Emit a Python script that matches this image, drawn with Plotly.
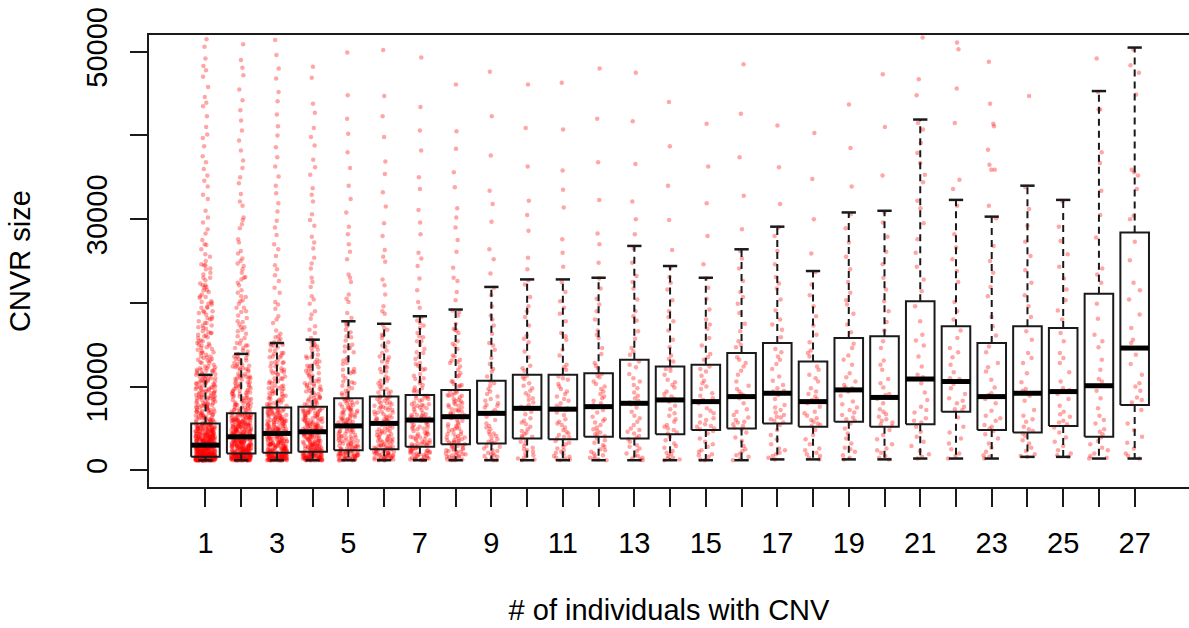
import plotly.graph_objects as go

# Number of individuals carrying the CNV (one box per value)
groups = list(range(1, 28))
tick_text = [str(g) if g % 2 == 1 else "" for g in groups]

# Box statistics per group, CNVR size in bp
whisker_low = [1200, 1200, 1200, 1200, 1200, 1200, 1200, 1200, 1200, 1200, 1200, 1200, 1200, 1200,
               1200, 1200, 1300, 1300, 1300, 1300, 1400, 1400, 1400, 1600, 1600, 1400, 1400]
q1 = [1600, 2000, 2100, 2200, 2400, 2500, 2800, 3100, 3200, 3800, 3700, 4000, 3800, 4300,
      4800, 5000, 5600, 5200, 5800, 5200, 5500, 7000, 4800, 4500, 5300, 4000, 7800]
median = [3000, 4000, 4400, 4600, 5300, 5600, 6000, 6400, 6800, 7400, 7300, 7600, 8000, 8400,
          8200, 8800, 9200, 8200, 9600, 8700, 10900, 10600, 8800, 9200, 9400, 10100, 14600]
q3 = [5600, 6800, 7500, 7600, 8600, 8800, 9000, 9600, 10700, 11400, 11400, 11600, 13200, 12400,
      12600, 14000, 15200, 13000, 15800, 16000, 20200, 17200, 15200, 17200, 17000, 21100, 28400]
whisker_high = [11400, 13900, 15200, 15600, 17800, 17500, 18400, 19200, 21900, 22800, 22800, 23000,
                26800, 24400, 23000, 26400, 29100, 23800, 30800, 31000, 41900, 32300, 30300,
                34000, 32300, 45300, 50500]

# Individual CNVR sizes (kb) for each group
size_kb_1 = [1.2, 1.3, 1.2, 1.4, 1.3, 1.5, 1.2, 1.6, 1.4, 1.3, 1.2, 1.5, 1.4, 1.6, 1.3, 1.2, 1.5, 1.4, 1.2, 1.3,
             1.6, 1.5, 1.4, 1.2, 1.3, 1.5, 1.6, 1.2, 1.4, 1.3, 1.2, 1.4, 1.5, 1.3, 1.6, 1.2, 1.4, 1.3, 1.5, 1.2,
             1.6, 1.4, 1.3, 1.5, 1.2, 1.4, 1.6, 1.3, 1.5, 1.2,
             1.7, 2.1, 1.8, 2.5, 1.9, 2.2, 2.8, 1.7, 2.4, 2.0, 2.9, 1.8, 2.3, 2.6, 1.9, 3.0, 2.1, 2.7, 1.7, 2.2,
             2.5, 2.0, 2.8, 1.8, 2.4, 1.9, 2.6, 2.3, 1.7, 2.9, 2.1, 2.0, 2.7, 1.8, 2.2, 2.5, 1.9, 3.0, 2.4, 2.1,
             2.6, 1.7, 2.3, 2.8, 2.0, 1.8, 2.5, 2.2, 2.9, 1.9,
             3.1, 4.2, 3.5, 5.0, 3.3, 4.6, 3.8, 5.4, 3.2, 4.0, 4.9, 3.6, 5.2, 3.4, 4.4, 3.9, 5.5, 3.1, 4.7, 3.7,
             4.1, 5.1, 3.3, 4.5, 3.6, 5.3, 3.9, 4.3, 3.2, 4.8, 3.5, 5.6, 4.0, 3.4, 4.6, 3.8, 5.0, 3.1, 4.2, 3.7,
             5.4, 4.4, 3.3, 4.9, 3.6, 4.1, 5.2, 3.9, 4.7, 3.5,
             5.9, 6.4, 7.1, 6.2, 7.8, 8.5, 6.8, 9.3, 7.4, 10.1, 8.0, 11.0, 8.8, 12.2, 9.7, 13.4, 10.6, 14.7,
             11.8, 16.2, 12.9, 17.8, 14.1, 19.5, 15.4, 21.3, 16.9, 23.4, 18.6, 25.8, 20.2, 28.3, 22.1, 31.0,
             24.5, 33.9, 27.0, 36.8, 29.6, 40.1, 32.4, 43.5, 35.2, 47.0, 38.7, 50.6, 42.3, 45.8, 49.2, 26.4,
             6.0, 6.6, 7.3, 8.2, 9.0, 9.9, 10.8, 11.6, 12.6, 13.8, 15.0, 16.5, 18.1, 19.9, 21.8, 24.1, 6.3,
             7.0, 7.7, 8.7, 9.5, 10.4, 11.3, 12.4, 13.1, 14.4, 15.8, 17.3, 19.0, 20.8, 22.7, 25.0, 27.5, 30.2,
             34.6, 37.5, 41.0, 44.6, 48.3, 51.5,
             1.2, 1.3, 1.4, 1.5, 1.2, 1.3, 1.6, 1.4, 1.5, 1.2, 1.7, 1.3, 1.8, 1.4, 1.2, 1.9, 1.5, 1.3, 2.0, 1.6,
             1.2, 2.2, 1.4, 2.4, 1.7, 1.3, 2.6, 1.5, 2.1, 1.8, 2.9, 1.2, 2.3, 1.6, 3.2, 1.9, 2.7, 1.4, 3.5, 2.0,
             3.8, 2.5, 1.3, 4.1, 2.8, 1.7, 4.5, 3.0, 2.2, 4.8, 3.4, 1.5, 5.2, 3.7, 2.6, 5.5, 4.0, 1.8, 4.3, 3.1,
             4.6, 2.4, 3.9, 5.0, 3.3, 4.9, 2.1, 3.6, 5.3, 4.4, 1.4, 2.9, 4.7, 3.2, 5.6, 2.7, 4.2, 1.6, 3.8, 5.1,
             6.1, 6.9, 7.5, 8.0, 8.8, 9.4, 10.3, 11.1, 12.0, 12.8, 13.6, 14.6, 15.5, 16.6, 17.6, 18.9, 20.0,
             21.5, 23.0, 24.6, 6.5, 7.2, 7.9, 8.6, 9.2, 10.0, 10.7, 11.5, 12.3, 13.2, 14.0, 15.2, 16.0, 17.1,
             18.3, 19.4, 20.6, 22.3, 24.0, 26.9, 5.8, 6.7, 7.6, 8.4, 9.6, 10.5, 11.9, 13.5, 14.9, 16.4, 18.0,
             19.8, 21.9, 25.5, 28.8, 32.9, 36.0, 39.7, 43.9, 47.8,
             1.2, 1.4, 1.3, 1.6, 1.2, 1.5, 1.8, 1.3, 1.7, 1.4, 2.0, 1.2, 1.6, 1.9, 1.3, 2.2, 1.5, 1.4, 2.4, 1.7,
             1.2, 1.8, 1.3, 2.1, 1.6, 1.4, 2.3, 1.5, 1.2, 1.9, 2.5, 1.3, 1.7, 2.0, 1.4, 1.6, 2.2, 1.2, 1.8, 1.5,
             1.3, 2.4, 1.7, 1.4, 2.1, 1.2, 1.9, 1.6, 2.3, 1.3, 1.5, 2.0, 1.8, 1.2, 2.5, 1.4, 1.7, 2.2, 1.3, 1.6,
             1.9, 1.2, 2.1, 1.5, 1.4, 2.4, 1.8, 1.3, 1.6, 2.0, 1.2, 2.3, 1.7, 1.5, 1.4, 1.9, 2.2, 1.3, 1.6, 1.8,
             2.6, 3.4, 4.5, 2.9, 3.8, 5.1, 2.7, 3.2, 4.2, 3.6, 4.9, 2.8, 3.0, 4.0, 5.5, 3.3, 2.6, 4.7, 3.9, 3.1,
             4.3, 2.9, 5.3, 3.5, 2.7, 4.1, 3.7, 5.0, 3.2, 4.6, 2.8, 3.4, 4.4, 5.6, 3.0, 3.8, 2.6, 4.8, 3.6, 4.2,
             5.2, 2.9, 3.3, 4.0, 3.1, 4.5, 2.7, 3.9, 5.4, 3.5, 4.3, 2.8, 3.7, 4.9, 3.0, 4.1, 2.6, 3.4, 5.1, 4.6,
             3.2, 2.9, 4.4, 3.8, 5.5, 3.1, 4.7, 2.7, 3.6, 4.2, 3.3, 5.0, 2.8, 4.0, 3.9, 4.8, 3.5, 5.3, 3.0, 4.3,
             5.8, 6.3, 7.0, 7.7, 8.5, 9.3, 10.2, 11.1, 6.0, 6.6, 7.3, 8.0, 8.8, 9.7, 10.6, 11.6, 5.9, 6.4, 7.1,
             7.9, 8.6, 9.5, 10.4, 11.4, 6.2, 6.9, 7.5, 8.3, 9.1, 9.9, 10.9, 11.8, 5.7, 6.5, 7.2, 7.8, 8.4, 9.0,
             9.8, 10.7, 11.3, 6.1, 6.8, 7.4, 8.1, 8.9, 9.6, 10.5, 11.5, 12.0, 6.7, 7.6, 8.7, 9.4, 10.0, 10.8,
             11.9, 6.0, 7.0, 8.2, 9.2, 10.3, 11.2, 5.8, 6.6, 7.7, 8.8, 9.9, 11.0, 12.0,
             12.4, 13.1, 14.0, 14.9, 15.9, 17.0, 18.2, 19.4, 20.7, 22.1, 23.6, 12.8, 13.6, 14.5, 15.4, 16.4,
             17.6, 18.8, 20.1, 21.5, 23.0, 24.5, 12.2, 13.3, 14.2, 15.1, 16.1, 17.3, 19.0, 21.0]
size_kb_2 = [1.2, 1.4, 1.3, 1.6, 1.5, 1.8, 1.2, 1.7, 1.9, 1.4, 1.3, 2.0, 1.6, 1.5, 1.2, 1.8, 1.4, 1.7, 1.3, 1.9,
             1.5, 1.2, 1.6, 2.0, 1.4, 1.8, 1.3, 1.7, 1.5, 1.9, 1.2, 1.6, 1.4, 1.8, 1.3, 2.0, 1.5, 1.7, 1.2, 1.6,
             2.1, 2.8, 3.5, 2.4, 3.1, 3.9, 2.2, 2.6, 3.3, 2.9, 3.7, 2.3, 3.0, 2.5, 3.6, 2.7, 3.2, 4.0, 2.1, 3.4,
             2.6, 3.8, 2.4, 3.0, 2.2, 3.5, 2.9, 3.1, 2.5, 3.9, 2.7, 3.3, 2.3, 3.6, 2.8, 2.0, 3.2, 3.7, 2.6, 3.4,
             4.2, 5.1, 6.0, 4.6, 5.5, 6.5, 4.4, 5.8, 4.9, 6.7, 4.1, 5.3, 6.2, 4.7, 5.6, 4.3, 6.4, 5.0, 4.8, 5.9,
             4.5, 6.8, 5.2, 4.0, 6.1, 5.4, 4.6, 6.6, 5.7, 4.2, 6.3, 4.9, 5.1, 6.0, 4.4, 5.5, 6.5, 4.7, 5.8, 5.3,
             7.0, 7.6, 8.3, 9.1, 10.0, 11.0, 12.1, 13.3, 7.3, 8.0, 8.8, 9.6, 10.5, 11.5, 12.7, 13.8, 14.9, 16.3,
             17.8, 19.4, 21.2, 23.1, 25.3, 27.6, 30.2, 33.0, 36.1, 39.4, 43.0, 47.2, 50.9, 7.8, 8.6, 9.9, 11.2,
             12.5, 15.2, 16.8, 18.5, 20.3, 22.4, 24.7, 28.9, 31.6, 35.0, 38.2, 41.8, 45.5, 49.0, 14.3, 17.1,
             19.9, 26.2, 29.4, 34.3, 7.1, 8.1, 9.4, 10.8, 12.0,
             1.3, 1.5, 1.2, 1.7, 1.4, 1.9, 1.6, 1.2, 1.8, 1.3, 2.0, 1.5, 1.7, 1.4, 1.9, 1.2, 1.6, 1.8, 1.3, 2.0,
             2.2, 2.9, 3.6, 2.5, 3.3, 2.1, 3.9, 2.7, 3.1, 2.4, 3.7, 2.8, 2.3, 3.4, 2.6, 3.0, 3.8, 2.2, 3.5, 2.9,
             4.3, 5.2, 6.1, 4.8, 5.6, 6.6, 4.1, 5.9, 4.5, 6.3, 5.0, 5.4, 6.8, 4.6, 5.7, 4.2, 6.0, 5.3, 4.9, 6.4,
             7.2, 7.9, 8.7, 9.5, 10.3, 11.3, 12.4, 13.6, 7.5, 8.4, 9.2, 10.1, 11.0, 12.2, 13.0, 14.6, 15.8,
             17.4, 19.0, 20.8, 22.8, 24.0, 25.9, 27.2, 29.9, 32.1, 37.0, 40.6, 44.2, 48.1,
             1.2, 1.5, 1.3, 1.8, 1.6, 2.1, 1.4, 2.4, 1.9, 1.2, 2.7, 1.7, 1.3, 2.2, 1.5, 2.0, 1.8, 1.4, 2.5, 1.6,
             1.2, 2.3, 1.9, 1.3, 2.6, 1.7, 2.1, 1.5, 1.4, 2.8, 1.8, 1.2, 2.4, 1.6, 2.0, 1.3, 2.2, 1.9, 1.5, 2.7,
             1.4, 1.7, 2.5, 1.2, 2.1, 1.8, 1.6, 2.3, 1.3, 2.6, 1.5, 1.9, 2.0, 1.4, 2.8, 1.7, 1.2, 2.4, 1.6, 2.2,
             2.9, 3.6, 4.5, 5.5, 3.2, 4.0, 5.0, 6.2, 3.0, 3.8, 4.8, 5.9, 3.4, 4.3, 5.3, 6.6, 3.1, 3.9, 4.6, 5.7,
             6.4, 3.3, 4.1, 5.2, 6.0, 3.5, 4.4, 5.4, 6.8, 2.9, 3.7, 4.7, 5.6, 6.3, 3.2, 4.2, 5.1, 6.5, 3.0, 4.0,
             4.9, 5.8, 3.6, 4.5, 5.3, 6.1, 3.4, 4.3, 5.0, 6.7, 3.1, 3.9, 4.6, 5.5, 6.2, 3.3, 4.1, 5.2, 5.9, 3.8,
             4.4, 5.7, 6.4, 3.5, 4.8, 6.0, 3.0, 4.2, 5.4, 6.6,
             7.0, 7.6, 8.3, 9.0, 9.8, 10.6, 11.5, 12.5, 13.6, 7.2, 7.9, 8.6, 9.4, 10.2, 11.0, 12.0, 13.1, 7.4,
             8.1, 8.9, 9.7, 10.5, 11.3, 12.3, 13.4, 7.1, 7.8, 8.5, 9.2, 10.0, 10.9, 11.8, 12.8, 13.9, 7.3, 8.0,
             8.8, 9.5, 10.4, 11.2, 12.2, 13.3, 7.7, 8.4, 9.3, 10.1, 11.1, 12.6, 7.5, 9.1,
             14.2, 15.1, 16.0, 17.1, 18.2, 19.4, 20.7, 22.1, 23.6, 25.0, 14.6, 15.5, 16.6, 17.7, 18.9, 20.2,
             21.5, 23.0, 24.4, 14.9]
size_kb_3 = [1.2, 1.5, 1.3, 1.8, 1.4, 2.0, 1.6, 1.2, 1.9, 1.3, 1.7, 2.1, 1.5, 1.4, 1.2, 1.8, 1.6, 1.3, 2.0, 1.7,
             1.4, 1.2, 1.9, 1.5, 1.6, 2.1, 1.3, 1.8, 1.4, 1.7, 1.2, 1.5,
             2.2, 3.0, 3.8, 2.5, 3.3, 4.2, 2.3, 2.8, 3.6, 2.6, 3.1, 4.0, 2.4, 3.4, 2.9, 4.4, 2.2, 3.7, 2.7, 3.2,
             4.1, 2.5, 3.5, 2.3, 3.9, 2.8, 3.0, 4.3, 2.6, 3.3, 2.4, 3.8,
             4.6, 5.5, 6.6, 4.9, 5.9, 7.1, 4.5, 6.2, 5.2, 7.4, 4.8, 5.7, 6.9, 5.0, 6.4, 4.7, 7.2, 5.4, 6.0, 4.6,
             6.8, 5.1, 7.5, 5.8, 4.9, 6.5, 5.3, 7.0, 6.1, 4.5, 5.6, 6.7,
             7.8, 8.6, 9.5, 10.6, 11.7, 12.9, 14.3, 15.0, 8.2, 9.1, 10.1, 11.2, 12.4, 13.6, 16.0, 17.6, 19.3,
             21.2, 23.3, 25.6, 28.1, 30.9, 34.0, 37.4, 41.1, 45.2, 49.6, 8.0, 9.8, 11.9, 14.0, 16.7, 18.4,
             20.1, 22.6, 24.5, 27.0, 29.8, 33.1, 36.3, 40.0, 44.1, 48.0, 51.4, 15.7,
             1.3, 1.6, 1.2, 1.9, 1.5, 2.1, 1.4, 1.8, 1.7, 2.0, 1.3, 1.5, 1.2, 1.9, 1.6, 2.1,
             2.3, 3.1, 3.9, 2.6, 3.4, 4.3, 2.5, 2.9, 3.7, 2.8, 3.2, 4.1, 2.4, 3.5, 3.0, 4.4,
             4.7, 5.6, 6.7, 5.0, 6.0, 7.2, 4.6, 6.3, 5.3, 7.3, 4.9, 5.8,
             7.9, 8.9, 9.9, 11.0, 12.2, 13.5, 14.9, 8.4, 9.3, 10.4, 11.5, 12.8, 16.3, 18.0, 19.8, 21.8, 24.0,
             26.4, 29.0, 31.9, 35.1, 38.6, 42.5, 46.8,
             1.2, 1.6, 1.3, 1.9, 1.5, 2.2, 1.4, 2.5, 1.8, 1.2, 2.7, 1.7, 1.3, 2.1, 1.5, 2.4, 1.9, 1.4, 2.6, 1.6,
             1.2, 2.0, 1.8, 1.3, 2.3, 1.7, 1.5, 2.8, 1.4, 2.1, 1.9, 1.2, 2.5, 1.6, 1.3, 2.2, 1.8, 1.5, 2.6, 1.4,
             2.0, 1.7, 1.2, 2.4, 1.6,
             3.0, 3.8, 4.8, 5.9, 7.0, 3.3, 4.2, 5.2, 6.4, 7.4, 3.1, 4.0, 5.0, 6.1, 7.2, 3.5, 4.5, 5.5, 6.7, 2.9,
             3.7, 4.6, 5.7, 6.9, 3.2, 4.1, 5.1, 6.3, 7.3, 3.4, 4.3, 5.3, 6.5, 3.0, 3.9, 4.9, 6.0, 7.1, 3.6, 4.4,
             5.4, 6.6, 3.3, 4.7, 5.8, 6.8, 3.1, 4.0, 5.6, 6.2, 3.8, 4.6, 5.9, 7.5, 3.5, 4.8, 6.1, 3.2, 5.0, 6.4,
             7.7, 8.4, 9.2, 10.1, 11.0, 12.0, 13.1, 14.3, 15.5, 7.9, 8.7, 9.5, 10.4, 11.4, 12.4, 13.5, 14.7,
             15.9, 8.1, 8.9, 9.8, 10.7, 11.7, 12.8, 13.9, 15.1, 7.6, 8.3, 9.1, 10.0, 10.9, 11.9, 12.9, 14.0,
             15.3, 8.0, 8.8, 9.7, 10.6, 11.6, 12.6, 13.7, 14.9, 8.5, 9.4]
size_kb_4 = [1.2, 1.6, 1.4, 1.9, 1.3, 2.1, 1.5, 1.8, 1.2, 2.0, 1.7, 1.4, 1.3, 2.2, 1.6, 1.9, 1.5, 1.2, 1.8, 1.4,
             2.1, 1.3, 1.7, 1.5, 2.0, 1.2, 1.6, 1.9,
             2.3, 3.1, 4.0, 2.6, 3.5, 4.4, 2.4, 2.9, 3.8, 2.7, 3.3, 4.2, 2.5, 3.6, 3.0, 4.6, 2.3, 3.9, 2.8, 3.4,
             4.3, 2.6, 3.7, 2.4, 4.1, 3.2, 2.9, 4.5,
             4.8, 5.7, 6.8, 5.1, 6.1, 7.3, 4.7, 6.4, 5.4, 7.6, 5.0, 5.9, 7.0, 5.2, 6.6, 4.9, 7.4, 5.6, 6.2, 4.8,
             6.9, 5.3, 7.1, 6.0, 5.1, 6.7, 5.5, 7.5,
             7.9, 8.8, 9.8, 10.9, 12.1, 13.5, 15.0, 8.3, 9.3, 10.4, 11.6, 12.9, 14.4, 15.5, 16.4, 18.1, 19.9,
             21.9, 24.1, 26.5, 29.2, 32.1, 35.3, 38.8, 42.7, 46.9, 8.6, 10.1, 12.5, 14.8, 17.2, 19.0, 20.8,
             23.0, 25.4, 27.9, 30.6, 33.7, 37.1, 40.9,
             1.3, 1.7, 1.5, 2.0, 1.4, 2.2, 1.6, 1.8, 1.2, 1.9, 1.5, 2.1,
             2.4, 3.2, 4.1, 2.7, 3.6, 4.5, 2.5, 3.0, 3.9, 2.8, 3.4, 4.4,
             4.9, 5.8, 6.9, 5.2, 6.3, 7.4, 4.8, 6.5, 5.5, 7.2,
             8.1, 9.0, 10.0, 11.2, 12.4, 13.8, 15.3, 8.5, 9.6, 10.7, 11.9, 13.2, 16.8, 18.6, 20.4, 22.5, 24.7,
             27.2, 29.9, 32.9, 36.2, 39.8, 43.8, 48.2,
             1.2, 1.7, 1.4, 2.0, 1.5, 2.3, 1.3, 2.6, 1.8, 1.2, 2.8, 1.6, 1.4, 2.1, 1.9, 1.3, 2.4, 1.7, 1.5, 2.7,
             1.2, 2.2, 1.8, 1.4, 2.5, 1.6, 1.3, 2.0, 1.9, 1.5, 2.3, 1.2, 2.6, 1.7, 1.4, 2.1,
             3.0, 3.9, 4.9, 6.0, 7.1, 3.3, 4.3, 5.3, 6.5, 7.5, 3.1, 4.1, 5.1, 6.2, 7.3, 3.6, 4.6, 5.6, 6.8, 2.9,
             3.8, 4.7, 5.8, 7.0, 3.2, 4.2, 5.2, 6.4, 3.4, 4.4, 5.4, 6.6, 3.0, 4.0, 5.0, 6.1, 3.7, 4.5, 5.5, 6.9,
             3.5, 4.8, 5.9, 7.2, 3.1, 4.3, 5.7, 6.3,
             7.8, 8.6, 9.4, 10.3, 11.3, 12.3, 13.4, 14.6, 15.8, 8.0, 8.8, 9.7, 10.6, 11.6, 12.7, 13.8, 15.0,
             8.2, 9.1, 10.0, 10.9, 11.9, 13.0, 14.2, 15.4, 7.9, 8.7, 9.5, 10.4, 11.4, 12.5, 13.6, 14.8, 8.4,
             9.3, 10.2]
size_kb_5 = [1.2, 1.5, 1.8, 2.1, 1.3, 1.7, 2.3, 1.4, 1.9, 1.2, 2.2, 1.6, 1.3, 2.0, 1.5, 2.4, 1.4, 1.8, 1.2, 2.1,
             1.6, 1.3, 1.9, 1.7,
             2.5, 3.4, 4.5, 2.8, 3.8, 5.0, 2.6, 3.2, 4.2, 3.0, 3.6, 4.8, 2.7, 4.0, 3.3, 5.2, 2.9, 4.4, 3.5, 3.9,
             4.7, 2.5, 4.1, 3.1,
             5.5, 6.6, 7.8, 5.9, 7.1, 8.4, 5.4, 7.4, 6.2, 8.6, 5.7, 6.9, 8.1, 6.0, 7.6, 5.6, 8.3, 6.4, 7.2, 5.8,
             8.0, 6.7, 7.0, 6.3,
             9.0, 10.1, 11.3, 12.7, 14.2, 15.9, 17.6, 9.5, 10.6, 12.0, 13.4, 15.0, 16.8, 18.8, 21.0, 23.4, 26.1,
             29.1, 32.4, 36.1, 40.2, 44.8, 49.9, 9.8, 11.7, 14.6, 17.2, 20.1, 22.5, 25.2, 28.2, 34.0, 38.0,
             1.3, 1.7, 2.0, 2.3, 1.5, 1.9, 2.6, 3.5, 4.6, 2.9, 3.9, 5.1, 5.6, 6.7, 7.9, 6.1, 7.3, 8.5, 9.2,
             10.4, 11.8, 13.1, 14.8, 16.5, 18.2, 20.5, 23.0, 27.0, 30.8, 42.0,
             1.3, 1.8, 2.2, 1.5, 2.0, 2.4, 1.4, 1.7, 2.3, 1.2, 1.9, 2.1,
             2.6, 3.5, 4.6, 5.7, 7.0, 8.3, 2.9, 3.8, 4.9, 6.1, 7.4, 8.6, 2.7, 3.6, 4.7, 5.9, 7.2, 3.1, 4.1, 5.3,
             6.5, 7.8, 3.3, 4.4, 5.5, 6.8, 8.1, 3.0, 4.0, 5.1, 6.3, 7.6,
             9.1, 10.0, 11.0, 12.1, 13.3, 14.6, 16.0, 17.5, 9.5, 10.5, 11.6, 12.8, 14.1, 15.5]
size_kb_6 = [1.2, 1.6, 2.0, 2.4, 1.4, 1.8, 2.2, 1.3, 1.7, 2.5, 1.5, 1.9, 1.2, 2.3, 1.6, 2.1, 1.4, 1.3, 2.0, 1.8,
             1.5, 2.4,
             2.6, 3.5, 4.6, 2.9, 3.9, 5.2, 2.7, 3.3, 4.3, 3.1, 3.7, 5.0, 2.8, 4.1, 3.4, 5.5, 3.0, 4.5, 3.6, 4.0,
             4.8, 2.6,
             5.8, 6.9, 8.1, 6.2, 7.4, 8.7, 5.7, 7.7, 6.5, 8.5, 6.0, 7.2, 8.3, 6.3, 7.9, 5.9, 8.8, 6.7, 7.0, 6.1,
             8.0, 7.5,
             9.2, 10.4, 11.7, 13.2, 14.9, 16.8, 9.7, 11.0, 12.4, 14.0, 15.8, 17.4, 19.6, 22.1, 24.9, 28.0, 31.5,
             35.4, 39.8, 44.7, 50.2, 10.0, 12.9, 16.1, 18.7, 21.0, 26.3, 33.2,
             1.3, 1.7, 2.1, 2.5, 1.5, 1.9, 2.7, 3.6, 4.7, 3.0, 4.2, 5.3, 5.9, 7.0, 8.2, 6.4, 7.6, 8.6, 9.4,
             10.7, 12.1, 13.6, 15.3, 17.0, 19.0, 22.8, 25.5, 29.5, 36.9, 42.3,
             1.3, 1.8, 2.3, 1.5, 2.1, 2.5, 1.4, 1.9, 1.2, 2.2,
             2.7, 3.6, 4.7, 5.9, 7.2, 8.5, 3.0, 4.0, 5.1, 6.3, 7.6, 8.8, 2.8, 3.8, 4.9, 6.1, 7.4, 3.2, 4.3, 5.4,
             6.7, 8.0, 3.4, 4.5, 5.6, 6.9,
             9.3, 10.2, 11.2, 12.3, 13.5, 14.8, 16.2, 9.7, 10.7, 11.8, 13.0, 14.3]
size_kb_7 = [1.2, 1.6, 2.1, 2.6, 1.4, 1.9, 2.4, 1.3, 1.8, 2.8, 1.5, 2.2, 1.2, 2.5, 1.7, 2.0, 1.4, 2.7, 1.3, 2.3,
             2.9, 3.8, 5.0, 3.2, 4.3, 5.6, 3.0, 3.6, 4.7, 3.4, 4.1, 5.4, 3.1, 4.5, 3.7, 5.9, 3.3, 4.9, 4.0, 5.2,
             6.2, 7.2, 8.3, 6.5, 7.6, 8.9, 6.1, 7.9, 6.8, 8.6, 6.3, 7.4, 8.1, 6.7, 7.0, 6.0, 8.8, 7.7, 6.4, 8.4,
             9.4, 10.6, 12.0, 13.6, 15.4, 17.3, 18.3, 9.9, 11.3, 12.8, 14.5, 16.4, 20.1, 22.9, 26.0, 29.6, 33.6,
             38.2, 43.4, 49.3, 10.2, 12.3, 15.0, 17.9, 24.4, 31.1,
             1.3, 1.8, 2.3, 2.7, 1.5, 2.1, 3.0, 3.9, 5.1, 3.3, 4.4, 5.7, 6.3, 7.3, 8.5, 6.6, 7.8, 8.9, 9.6,
             11.0, 12.5, 14.1, 15.9, 17.6, 19.4, 21.5, 25.3, 28.2, 35.0, 40.6,
             1.3, 1.9, 2.4, 1.6, 2.2, 2.7, 1.4, 2.0,
             3.0, 3.9, 5.0, 6.2, 7.5, 8.7, 3.3, 4.3, 5.4, 6.6, 7.9, 3.1, 4.1, 5.2, 6.4, 7.7, 8.9, 3.6, 4.6, 5.8,
             9.4, 10.4, 11.5, 12.7, 14.0, 15.4, 17.0, 9.8, 10.9, 12.1, 13.3, 16.0]
size_kb_8 = [1.2, 1.7, 2.3, 2.9, 1.4, 2.0, 2.6, 1.3, 1.9, 3.1, 1.6, 2.4, 1.2, 2.8, 1.8, 2.1, 1.5, 2.7,
             3.2, 4.1, 5.3, 3.5, 4.6, 6.0, 3.3, 3.9, 5.0, 3.7, 4.4, 5.7, 3.4, 4.8, 4.0, 6.3, 3.6, 5.2,
             6.6, 7.7, 8.9, 7.0, 8.1, 9.5, 6.5, 8.4, 7.3, 9.2, 6.8, 7.9, 8.7, 7.2, 7.5, 6.4, 9.0, 8.2,
             10.0, 11.3, 12.8, 14.5, 16.4, 18.5, 10.6, 12.0, 13.6, 15.4, 17.5, 19.1, 21.3, 24.2, 27.5, 31.3,
             35.6, 40.5, 46.1, 10.3, 13.2, 16.9, 22.6, 29.0,
             1.3, 1.8, 2.4, 3.0, 1.6, 2.2, 3.3, 4.3, 5.5, 3.8, 4.9, 6.2, 6.7, 7.8, 9.0, 7.1, 8.3, 9.4, 10.2,
             11.6, 13.1, 14.9, 16.8, 18.9, 20.3, 23.0, 26.1, 30.2, 33.8, 38.4,
             1.3, 1.9, 2.5, 1.6, 2.2, 2.9,
             3.3, 4.3, 5.5, 6.8, 8.0, 9.3, 3.6, 4.7, 5.9, 7.2, 8.5, 3.9, 5.1, 6.4, 7.6, 8.9,
             10.1, 11.2, 12.4, 13.7, 15.1, 16.7, 10.6, 12.9]
size_kb_9 = [1.2, 1.7, 2.3, 2.9, 1.4, 2.0, 2.6, 1.3, 1.9, 3.2, 1.6, 2.4, 1.2, 2.8, 1.8, 2.1,
             3.3, 4.3, 5.6, 3.7, 4.9, 6.4, 3.4, 4.1, 5.3, 3.9, 4.6, 6.0, 3.5, 5.1, 4.4, 6.7,
             7.0, 8.3, 9.7, 7.5, 8.8, 10.4, 6.9, 9.1, 7.8, 10.1, 7.2, 8.5, 9.4, 7.7, 8.0, 10.6,
             11.2, 12.7, 14.4, 16.3, 18.5, 20.9, 21.8, 11.8, 13.4, 15.2, 17.3, 19.6, 23.5, 26.4, 29.7, 33.4,
             37.6, 42.3, 47.6, 12.1, 14.9, 18.0, 25.2, 31.8]
size_kb_10 = [1.2, 1.8, 2.5, 3.2, 1.5, 2.2, 2.9, 1.3, 2.0, 3.6, 1.7, 2.7, 1.4, 3.4, 2.4,
              3.9, 4.9, 6.2, 4.3, 5.5, 7.0, 4.0, 4.7, 5.9, 4.5, 5.2, 6.7, 4.1, 5.7, 7.3,
              7.6, 8.9, 10.4, 8.1, 9.5, 11.1, 7.5, 9.8, 8.4, 10.9, 7.8, 9.2, 10.1, 8.6, 11.3,
              11.9, 13.5, 15.3, 17.3, 19.6, 22.2, 12.5, 14.2, 16.1, 18.3, 20.7, 22.7, 25.4, 28.6, 32.2, 36.3,
              40.9, 46.1, 12.2, 15.7, 19.0, 24.0, 30.5]
size_kb_11 = [1.2, 1.7, 2.4, 3.1, 1.4, 2.1, 2.8, 1.3, 1.9, 3.5, 1.6, 2.6, 1.5, 3.3, 2.2,
              3.8, 4.8, 6.1, 4.2, 5.4, 6.9, 3.9, 4.6, 5.8, 4.4, 5.1, 6.6, 4.0, 5.6, 7.2,
              7.5, 8.8, 10.3, 8.0, 9.4, 11.0, 7.4, 9.7, 8.3, 10.8, 7.7, 9.1, 10.0, 8.5, 11.2,
              12.0, 13.7, 15.6, 17.8, 20.2, 22.5, 12.6, 14.4, 16.4, 18.7, 21.3, 24.3, 27.6, 31.4, 35.8, 40.7,
              46.3, 12.3, 16.0, 19.4, 26.0, 33.5]
size_kb_12 = [1.2, 1.8, 2.5, 3.3, 1.5, 2.2, 3.0, 1.3, 2.0, 3.8, 1.7, 2.8, 1.4, 3.6, 2.4,
              4.1, 5.1, 6.4, 4.5, 5.7, 7.2, 4.2, 4.9, 6.1, 4.7, 5.4, 6.9, 4.3, 5.9, 7.5,
              7.8, 9.1, 10.6, 8.3, 9.7, 11.3, 7.7, 10.0, 8.6, 11.1, 8.0, 9.4, 10.3, 8.8, 11.5,
              12.2, 13.9, 15.8, 18.0, 20.5, 22.9, 12.8, 14.6, 16.7, 19.0, 21.7, 24.8, 28.3, 32.3, 36.8, 42.0,
              48.0, 12.5, 16.2, 19.8, 27.0]
size_kb_13 = [1.2, 1.8, 2.6, 3.4, 1.5, 2.3, 3.0, 1.3, 2.0, 3.7, 1.7, 2.8, 1.4,
              3.9, 5.0, 6.5, 4.4, 5.8, 7.5, 4.1, 4.8, 6.2, 4.6, 5.4, 7.0, 7.9,
              8.3, 9.8, 11.5, 8.9, 10.6, 12.6, 8.1, 11.0, 9.3, 12.3, 8.6, 10.2, 13.0,
              13.8, 15.7, 17.9, 20.4, 23.2, 26.5, 14.6, 16.6, 19.0, 21.7, 24.8, 28.2, 32.1, 36.6, 41.7, 47.5,
              14.2, 18.4, 22.5, 30.0]
size_kb_14 = [1.2, 1.9, 2.7, 3.6, 1.5, 2.3, 3.2, 1.3, 2.1, 4.0, 1.7, 2.9, 1.4,
              4.4, 5.4, 6.8, 4.8, 6.1, 7.7, 4.5, 5.2, 6.5, 5.0, 5.8, 7.3, 8.2,
              8.6, 9.9, 11.4, 9.1, 10.5, 12.1, 8.5, 10.8, 9.4, 11.9, 8.8, 10.2, 12.3,
              13.0, 14.7, 16.7, 19.0, 21.6, 24.2, 13.7, 15.6, 17.8, 20.3, 23.1, 26.3, 29.9, 34.0, 38.7, 44.0,
              13.3, 18.3, 22.4]
size_kb_15 = [1.2, 1.9, 2.8, 3.8, 1.6, 2.4, 3.4, 1.3, 2.2, 4.4, 1.8, 3.1, 4.7,
              4.9, 5.7, 6.8, 5.2, 6.2, 7.4, 5.0, 5.5, 6.5, 5.3, 6.0, 7.1, 8.0,
              8.4, 9.7, 11.3, 8.9, 10.4, 12.1, 8.3, 10.7, 9.2, 11.8, 8.6, 10.0, 12.4,
              13.2, 14.9, 16.9, 19.2, 21.8, 22.9, 13.9, 15.8, 18.0, 20.5, 24.6, 28.0, 31.9, 36.3, 41.4, 13.5,
              17.4]
size_kb_16 = [1.2, 2.0, 2.9, 3.9, 1.6, 2.5, 3.5, 1.4, 2.3, 4.5, 1.8, 4.9,
              5.1, 6.0, 7.3, 5.5, 6.6, 8.0, 5.3, 5.8, 7.0, 5.7, 6.3, 8.6,
              9.1, 10.6, 12.4, 9.7, 11.4, 13.5, 9.0, 11.9, 10.1, 13.2, 9.4, 12.8,
              14.7, 16.6, 18.8, 21.3, 24.1, 26.2, 15.4, 17.5, 19.9, 22.6, 25.3, 28.8, 32.8, 37.4, 42.6, 48.5,
              15.0, 20.7]
size_kb_17 = [1.3, 2.1, 3.1, 4.2, 1.7, 2.6, 3.7, 1.5, 2.4, 4.8, 1.9, 5.4,
              5.7, 6.6, 7.8, 6.1, 7.2, 8.5, 5.9, 6.4, 7.5, 6.3, 6.9, 9.0,
              9.5, 11.2, 13.2, 10.2, 12.1, 14.5, 9.4, 12.7, 10.7, 14.1, 9.8, 13.6,
              15.9, 18.0, 20.4, 23.1, 26.2, 29.0, 16.8, 19.1, 21.7, 24.6, 28.0, 31.8, 36.2, 41.2, 17.4, 22.3]
size_kb_18 = [1.3, 2.1, 3.1, 4.2, 1.7, 2.6, 3.7, 1.5, 2.4, 4.8, 1.9,
              5.3, 6.0, 7.0, 5.6, 6.5, 7.6, 5.4, 5.8, 6.8, 6.2, 8.0,
              8.5, 9.8, 11.4, 9.1, 10.6, 12.4, 8.4, 11.0, 9.4, 12.0, 8.8,
              13.6, 15.3, 17.3, 19.6, 22.2, 23.7, 14.3, 16.2, 18.4, 20.9, 25.9, 30.0, 34.8, 40.3, 14.0]
size_kb_19 = [1.3, 2.2, 3.2, 4.4, 1.8, 2.7, 3.8, 1.5, 2.5, 5.0, 5.6,
              5.9, 6.9, 8.2, 6.3, 7.5, 8.9, 6.1, 6.6, 7.9, 7.2, 9.4,
              9.9, 11.6, 13.7, 10.6, 12.6, 15.1, 9.8, 13.2, 11.1, 14.6, 10.2,
              16.5, 18.7, 21.2, 24.0, 27.2, 30.6, 17.4, 19.8, 22.5, 25.5, 28.9, 33.9, 38.5, 43.7, 20.3]
size_kb_20 = [1.3, 2.1, 3.1, 4.2, 1.7, 2.6, 3.7, 1.5, 4.8, 2.4,
              5.3, 6.1, 7.3, 5.7, 6.7, 8.0, 5.5, 5.9, 7.0, 6.4, 8.5,
              9.1, 10.9, 13.1, 9.9, 12.0, 14.6, 9.0, 12.6, 10.4, 15.4,
              16.7, 19.0, 21.6, 24.6, 27.9, 30.8, 17.7, 20.2, 23.0, 26.1, 29.6, 35.2, 41.0, 47.3]
size_kb_21 = [1.4, 2.3, 3.4, 4.6, 1.9, 2.9, 4.0, 1.6, 5.2,
              5.7, 6.9, 8.4, 6.2, 7.6, 9.3, 5.9, 7.2, 10.4,
              11.4, 13.6, 16.2, 12.4, 14.9, 17.8, 11.1, 15.5, 19.6,
              21.4, 24.3, 27.6, 31.3, 22.8, 26.0, 29.5, 32.2, 34.4, 35.3, 36.7, 37.9, 39.1, 40.7, 41.5,
              44.8, 46.7, 51.7]
size_kb_22 = [1.4, 2.5, 3.8, 5.2, 2.0, 3.2, 4.5, 1.7, 6.3,
              7.2, 8.0, 9.1, 7.6, 8.6, 9.8, 7.3, 8.3, 10.3,
              11.0, 12.6, 14.6, 11.7, 13.5, 15.8, 10.9, 14.1, 16.7,
              18.0, 20.1, 22.5, 25.2, 28.2, 31.6, 19.0, 23.8, 26.6, 33.6, 34.7, 41.5, 45.6, 50.3, 51.1]
size_kb_23 = [1.4, 2.2, 3.2, 4.3, 1.8, 2.7, 3.8, 1.6, 4.7,
              5.0, 5.9, 7.1, 5.4, 6.5, 8.0, 5.2, 6.2, 8.5,
              9.2, 10.8, 12.8, 9.9, 11.8, 14.1, 9.0, 12.3, 14.8,
              16.1, 18.3, 20.8, 23.6, 26.8, 30.1, 17.2, 21.9, 25.0, 31.6, 35.9, 35.9, 36.5, 38.3, 41.1, 41.4,
              43.8, 48.8]
size_kb_24 = [1.6, 2.3, 3.2, 4.1, 1.9, 2.7, 3.6, 1.7, 4.4,
              4.7, 5.8, 7.2, 5.2, 6.5, 8.3, 4.9, 6.1, 8.9,
              9.7, 11.6, 14.0, 10.5, 12.8, 15.6, 9.5, 13.4, 16.6,
              18.3, 20.9, 23.9, 27.3, 31.2, 33.8, 19.6, 22.4, 25.6, 29.2, 44.7]
size_kb_25 = [1.6, 2.4, 3.4, 4.5, 2.0, 2.9, 3.9, 1.8, 5.1,
              5.5, 6.4, 7.7, 5.9, 7.0, 8.5, 5.7, 6.7, 9.1,
              9.8, 11.7, 14.0, 10.6, 12.8, 15.4, 9.6, 13.4, 16.4,
              18.0, 20.3, 22.9, 25.8, 29.1, 32.1, 19.1, 21.6, 24.3, 27.4]
size_kb_26 = [1.4, 2.0, 2.7, 3.5, 1.7, 2.4, 3.1, 1.5, 3.9,
              4.3, 5.6, 7.4, 4.9, 6.5, 8.6, 4.6, 6.0, 9.5,
              10.9, 13.2, 16.2, 12.0, 14.7, 18.1, 10.6, 15.4, 19.9,
              22.4, 23.4, 24.1, 27.8, 30.5, 33.4, 36.7, 38.0, 43.1, 43.1, 45.2, 49.2]
size_kb_27 = [1.4, 2.6, 4.0, 5.6, 2.0, 3.3, 4.8, 1.7, 7.2,
              8.1, 9.5, 11.4, 8.7, 10.4, 12.7, 8.4, 10.0, 13.8,
              15.6, 18.6, 22.4, 17.0, 20.4, 25.1, 15.2, 21.5, 27.3,
              30.0, 30.4, 33.6, 35.2, 35.6, 35.9, 44.9, 47.5, 48.4, 50.3]

sizes_kb = [size_kb_1, size_kb_2, size_kb_3, size_kb_4, size_kb_5, size_kb_6, size_kb_7, size_kb_8,
            size_kb_9, size_kb_10, size_kb_11, size_kb_12, size_kb_13, size_kb_14, size_kb_15,
            size_kb_16, size_kb_17, size_kb_18, size_kb_19, size_kb_20, size_kb_21, size_kb_22,
            size_kb_23, size_kb_24, size_kb_25, size_kb_26, size_kb_27]

FONT = "Liberation Sans, Arial, Helvetica, sans-serif"
FONT_SIZE = 29
INK = "#1a1a1a"

# Long-form point data for the jittered strip
pt_x, pt_y = [], []
for g, vals in zip(groups, sizes_kb):
    pt_x += [g] * len(vals)
    pt_y += [v * 1000 for v in vals]

fig = go.Figure()

# Jittered points (box itself hidden; only its points are shown)
fig.add_trace(go.Box(
    x=pt_x, y=pt_y, boxpoints="all", jitter=0.7, pointpos=0, width=0.8,
    fillcolor="rgba(0,0,0,0)", line=dict(color="rgba(0,0,0,0)", width=0),
    whiskerwidth=0, marker=dict(color="rgba(255,0,0,0.35)", size=4.5),
    hoveron="points", showlegend=False,
))

# Box outlines, whiskers, staples and medians drawn from the statistics
half_box = 0.4
half_cap = 0.2
box_x, box_y = [], []
med_x, med_y = [], []
wh_x, wh_y = [], []
cap_x, cap_y = [], []
for g, lo, a, m, b, hi in zip(groups, whisker_low, q1, median, q3, whisker_high):
    box_x += [g - half_box, g + half_box, g + half_box, g - half_box, g - half_box, None]
    box_y += [a, a, b, b, a, None]
    med_x += [g - half_box, g + half_box, None]
    med_y += [m, m, None]
    wh_x += [g, g, None, g, g, None]
    wh_y += [b, hi, None, a, lo, None]
    cap_x += [g - half_cap, g + half_cap, None, g - half_cap, g + half_cap, None]
    cap_y += [hi, hi, None, lo, lo, None]

fig.add_trace(go.Scatter(x=wh_x, y=wh_y, mode="lines", hoverinfo="skip", showlegend=False,
                         line=dict(color=INK, width=2, dash="7px,5px")))
fig.add_trace(go.Scatter(x=cap_x, y=cap_y, mode="lines", hoverinfo="skip", showlegend=False,
                         line=dict(color=INK, width=2.5)))
fig.add_trace(go.Scatter(x=box_x, y=box_y, mode="lines", hoverinfo="skip", showlegend=False,
                         line=dict(color=INK, width=2)))
fig.add_trace(go.Scatter(x=med_x, y=med_y, mode="lines", hoverinfo="skip", showlegend=False,
                         line=dict(color="#000000", width=5)))

fig.update_layout(
    width=1189, height=628,
    margin=dict(l=149, r=0, t=35, b=141),
    paper_bgcolor="white", plot_bgcolor="white",
    font=dict(family=FONT, size=FONT_SIZE, color="#000000"),
    showlegend=False,
    boxmode="overlay",
    xaxis=dict(
        range=[-0.58, 28.52], tickmode="array", tickvals=groups, ticktext=tick_text,
        ticks="outside", ticklen=18, tickwidth=2, tickcolor=INK,
        showline=True, linecolor=INK, linewidth=2, mirror=True,
        showgrid=False, zeroline=False, ticklabelstandoff=11,
        tickfont=dict(family=FONT, size=FONT_SIZE, color="#000000"),
        title=dict(text="# of individuals with CNV", standoff=42,
                   font=dict(family=FONT, size=FONT_SIZE, color="#000000")),
    ),
    yaxis=dict(
        range=[-2000, 52000], tickmode="array",
        tickvals=[0, 10000, 20000, 30000, 40000, 50000],
        ticktext=["0", "10000", "", "30000", "", "50000"],
        tickangle=-90, ticks="outside", ticklen=17, tickwidth=2, tickcolor=INK,
        showline=True, linecolor=INK, linewidth=2, mirror=False,
        showgrid=False, zeroline=False, ticklabelstandoff=11,
        tickfont=dict(family=FONT, size=FONT_SIZE, color="#000000"),
        title=dict(text="CNVR size", standoff=42,
                   font=dict(family=FONT, size=FONT_SIZE, color="#000000")),
    ),
)

fig.write_html("out.html")
